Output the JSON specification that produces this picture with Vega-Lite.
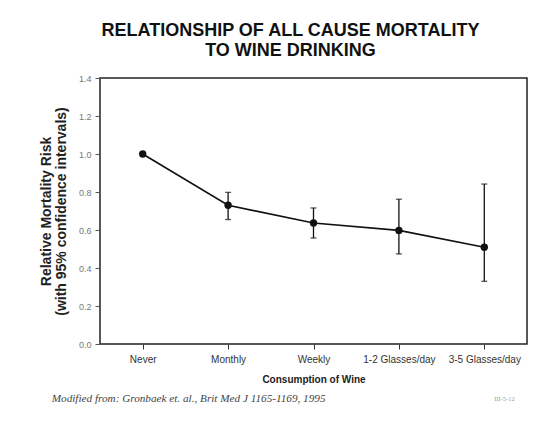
{
  "$schema": "https://vega.github.io/schema/vega-lite/v6.json",
  "background": "white",
  "padding": {"left": 38, "top": 21, "right": 24, "bottom": 10},
  "config": {
    "view": {"stroke": "#222", "strokeWidth": 1.5},
    "font": "Liberation Sans"
  },
  "title": {
    "text": "III-5-12",
    "orient": "bottom",
    "anchor": "end",
    "fontSize": 6.5,
    "fontWeight": "normal",
    "color": "#999",
    "font": "Liberation Serif",
    "dx": -13,
    "dy": -8,
    "offset": 0
  },
  "vconcat": [
    {
      "title": {
        "text": "Modified from: Gronbaek et. al., Brit Med J 1165-1169, 1995",
        "orient": "bottom",
        "anchor": "start",
        "font": "Liberation Serif",
        "fontStyle": "italic",
        "fontWeight": "normal",
        "fontSize": 11.2,
        "color": "#444",
        "dx": 13,
        "offset": 8
      },
      "vconcat": [
        {
          "title": {
            "text": ["RELATIONSHIP OF ALL CAUSE MORTALITY", "TO WINE DRINKING"],
            "anchor": "middle",
            "frame": "group",
            "dx": -23,
            "fontSize": 18,
            "fontWeight": "bold",
            "lineHeight": 20,
            "color": "#111",
            "offset": 14
          },
          "width": 427,
          "height": 266,
          "data": {
            "values": [
              {"consumption": "Never", "risk": 1.0, "lo": null, "hi": null},
              {"consumption": "Monthly", "risk": 0.73, "lo": 0.655, "hi": 0.798},
              {"consumption": "Weekly", "risk": 0.637, "lo": 0.558, "hi": 0.716},
              {"consumption": "1-2 Glasses/day", "risk": 0.598, "lo": 0.474, "hi": 0.762},
              {"consumption": "3-5 Glasses/day", "risk": 0.509, "lo": 0.33, "hi": 0.842}
            ]
          },
          "encoding": {
            "x": {
              "field": "consumption",
              "type": "ordinal",
              "sort": ["Never", "Monthly", "Weekly", "1-2 Glasses/day", "3-5 Glasses/day"],
              "scale": {"type": "point", "padding": 0.5},
              "axis": {
                "title": "Consumption of Wine",
                "titleFontSize": 10,
                "titleFontWeight": "bold",
                "titleColor": "#222",
                "titlePadding": 10,
                "labelAngle": 0,
                "labelFontSize": 10,
                "labelColor": "#333",
                "labelPadding": 5,
                "tickSize": 5,
                "tickColor": "#333",
                "domain": false,
                "grid": false
              }
            }
          },
          "layer": [
            {
              "mark": {"type": "line", "color": "#111", "strokeWidth": 1.6, "point": {"filled": true, "size": 55, "color": "#111", "opacity": 1}},
              "encoding": {
                "y": {
                  "field": "risk",
                  "type": "quantitative",
                  "scale": {"domain": [0, 1.4], "nice": false, "zero": true},
                  "axis": {
                    "title": ["Relative Mortality Risk", "(with 95% confidence intervals)"],
                    "titleFontSize": 14,
                    "titleFontWeight": "bold",
                    "titleColor": "#222",
                    "titleLineHeight": 15,
                    "titlePadding": 10,
                    "values": [0, 0.2, 0.4, 0.6, 0.8, 1.0, 1.2, 1.4],
                    "tickCount": 8,
                    "labelOverlap": false,
                    "format": ".1f",
                    "labelFontSize": 9,
                    "labelColor": "#777",
                    "labelPadding": 4,
                    "tickSize": 5,
                    "tickColor": "#555",
                    "domain": false,
                    "grid": false
                  }
                }
              }
            },
            {
              "mark": {"type": "rule", "color": "#111", "strokeWidth": 1.3},
              "encoding": {
                "y": {"field": "lo", "type": "quantitative"},
                "y2": {"field": "hi"}
              }
            },
            {
              "mark": {"type": "tick", "color": "#111", "size": 6, "thickness": 1.3},
              "encoding": {"y": {"field": "lo", "type": "quantitative"}}
            },
            {
              "mark": {"type": "tick", "color": "#111", "size": 6, "thickness": 1.3},
              "encoding": {"y": {"field": "hi", "type": "quantitative"}}
            }
          ]
        }
      ]
    }
  ]
}
